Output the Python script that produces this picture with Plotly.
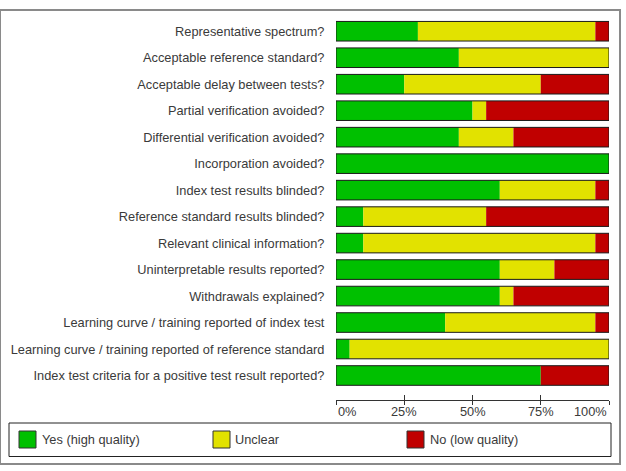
import plotly.graph_objects as go
import numpy as np

questions = [
    "Representative spectrum?",
    "Acceptable reference standard?",
    "Acceptable delay between tests?",
    "Partial verification avoided?",
    "Differential verification avoided?",
    "Incorporation avoided?",
    "Index test results blinded?",
    "Reference standard results blinded?",
    "Relevant clinical information?",
    "Uninterpretable results reported?",
    "Withdrawals explained?",
    "Learning curve / training reported of index test",
    "Learning curve / training reported of reference standard",
    "Index test criteria for a positive test result reported?",
]
yes_pct     = [30, 45, 25, 50, 45, 100, 60, 10, 10, 60, 60, 40, 5, 75]
unclear_pct = [65, 55, 50, 5, 20, 0, 35, 45, 85, 20, 5, 55, 95, 0]
no_pct      = [5, 0, 25, 45, 35, 0, 5, 45, 5, 20, 35, 5, 0, 25]
series_names = ["Yes (high quality)", "Unclear", "No (low quality)"]
series_colors = ["#00C000", "#E2E200", "#C00000"]
tick_vals = [0, 25, 50, 75, 100]
tick_text = ["0%", "25%", "50%", "75%", "100%"]

W, H = 626, 471
ML, MR, MT, MB = 336, 17, 18, 71
PW = W - ML - MR
PH = H - MT - MB

def px(x):
    return (x - ML) / PW

def py(y):
    return (H - MB - y) / PH

yes = np.array(yes_pct, dtype=float)
unc = np.array(unclear_pct, dtype=float)
no = np.array(no_pct, dtype=float)
total = yes + unc + no
bases = [np.zeros_like(yes), yes, yes + unc]
vals = [yes, unc, no]

fig = go.Figure()
for name, v, b, c in zip(series_names, vals, bases, series_colors):
    fig.add_trace(go.Bar(
        y=questions, x=v, base=b, orientation="h", name=name,
        marker=dict(color=c, line=dict(width=0)), width=0.74,
        showlegend=False, hoverinfo="skip",
    ))
# outline around whole bar
fig.add_trace(go.Bar(
    y=questions, x=total, base=0, orientation="h",
    marker=dict(color="rgba(0,0,0,0)", line=dict(width=1, color="#1a1a1a")),
    width=0.74, showlegend=False, hoverinfo="skip",
))
# invisible trace for upper tick axis
fig.add_trace(go.Scatter(x=[0, 100], y=[questions[0], questions[0]], xaxis="x2",
                         mode="markers", marker=dict(opacity=0), showlegend=False,
                         hoverinfo="skip"))

font = dict(family="Liberation Sans, Arial, sans-serif", size=12.8, color="#3a3a3a")

n = len(questions)
fig.update_layout(
    width=W, height=H,
    margin=dict(l=ML, r=MR, t=MT, b=MB, autoexpand=False),
    paper_bgcolor="white", plot_bgcolor="white",
    barmode="overlay",
    font=font,
    xaxis=dict(range=[0, 100], tickvals=tick_vals, showticklabels=False,
               showgrid=False, zeroline=False, showline=True, linecolor="#333333",
               linewidth=1, ticks="outside", ticklen=4, tickcolor="#333333",
               automargin=False),
    xaxis2=dict(range=[0, 100], overlaying="x", anchor="y", side="bottom",
                tickvals=tick_vals, showticklabels=False, showgrid=False,
                zeroline=False, showline=False, ticks="inside", ticklen=5,
                tickcolor="#333333", automargin=False),
    yaxis=dict(categoryorder="array", categoryarray=questions,
               range=[n - 1 + 0.925, -0.5], showgrid=False, zeroline=False,
               ticks="outside", ticklen=8, tickcolor="rgba(0,0,0,0)",
               tickfont=font, automargin=False),
)

# x tick labels
anchors = ["left", "center", "center", "center", "right"]
for v, t, a in zip(tick_vals, tick_text, anchors):
    fig.add_annotation(x=v, y=py(411), xref="x", yref="paper", text=t,
                       showarrow=False, xanchor=a, yanchor="middle",
                       font=font)

shapes = []
# outer frame
shapes.append(dict(type="rect", xref="paper", yref="paper",
                   x0=px(0), x1=px(620), y0=py(10), y1=py(464),
                   line=dict(color="#8a8a8a", width=2)))
# legend box
shapes.append(dict(type="rect", xref="paper", yref="paper",
                   x0=px(9), x1=px(611), y0=py(423), y1=py(456.5),
                   line=dict(color="#222222", width=1)))
sq_x = [19, 213, 407]
txt_x = [40, 233, 428]
for sx, tx, name, c in zip(sq_x, txt_x, series_names, series_colors):
    shapes.append(dict(type="rect", xref="paper", yref="paper",
                       x0=px(sx), x1=px(sx + 17), y0=py(431), y1=py(448),
                       fillcolor=c, line=dict(color="#333333", width=1)))
    fig.add_annotation(x=px(tx), y=py(439.5), xref="paper", yref="paper",
                       text=name, showarrow=False, xanchor="left",
                       yanchor="middle", font=font)
fig.update_layout(shapes=shapes)

fig.write_html("out.html")
